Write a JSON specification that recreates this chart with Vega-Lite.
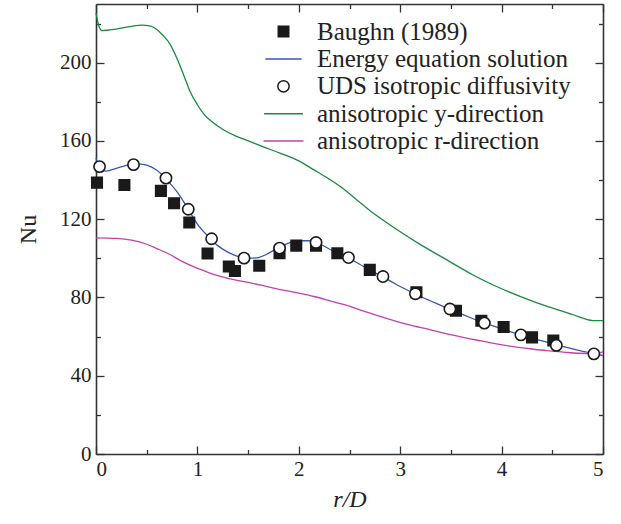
{
  "$schema": "https://vega.github.io/schema/vega-lite/v6.json",
  "width": 507,
  "height": 450,
  "autosize": "none",
  "padding": {"left": 96, "top": 4, "right": 18, "bottom": 70},
  "background": "white",
  "datasets": {
    "curves": [
      {"series": "Energy equation solution", "x": 0, "y": 151.5},
      {"series": "Energy equation solution", "x": 0.03, "y": 145.5},
      {"series": "Energy equation solution", "x": 0.1, "y": 144.6},
      {"series": "Energy equation solution", "x": 0.2, "y": 146},
      {"series": "Energy equation solution", "x": 0.3, "y": 147.5},
      {"series": "Energy equation solution", "x": 0.4, "y": 148.3},
      {"series": "Energy equation solution", "x": 0.5, "y": 147.6},
      {"series": "Energy equation solution", "x": 0.6, "y": 145},
      {"series": "Energy equation solution", "x": 0.7, "y": 140},
      {"series": "Energy equation solution", "x": 0.8, "y": 134},
      {"series": "Energy equation solution", "x": 0.9, "y": 126},
      {"series": "Energy equation solution", "x": 1.0, "y": 117.5},
      {"series": "Energy equation solution", "x": 1.1, "y": 111.5},
      {"series": "Energy equation solution", "x": 1.2, "y": 106.5},
      {"series": "Energy equation solution", "x": 1.3, "y": 103.2},
      {"series": "Energy equation solution", "x": 1.4, "y": 101},
      {"series": "Energy equation solution", "x": 1.5, "y": 100},
      {"series": "Energy equation solution", "x": 1.6, "y": 100.4},
      {"series": "Energy equation solution", "x": 1.7, "y": 102.5},
      {"series": "Energy equation solution", "x": 1.8, "y": 105.5},
      {"series": "Energy equation solution", "x": 1.9, "y": 107.8},
      {"series": "Energy equation solution", "x": 2.0, "y": 109},
      {"series": "Energy equation solution", "x": 2.1, "y": 109},
      {"series": "Energy equation solution", "x": 2.2, "y": 107.5},
      {"series": "Energy equation solution", "x": 2.3, "y": 104.8},
      {"series": "Energy equation solution", "x": 2.4, "y": 102},
      {"series": "Energy equation solution", "x": 2.5, "y": 99.8},
      {"series": "Energy equation solution", "x": 2.6, "y": 97},
      {"series": "Energy equation solution", "x": 2.7, "y": 94},
      {"series": "Energy equation solution", "x": 2.8, "y": 91.3},
      {"series": "Energy equation solution", "x": 2.9, "y": 88.5},
      {"series": "Energy equation solution", "x": 3.0, "y": 85.6},
      {"series": "Energy equation solution", "x": 3.1, "y": 83},
      {"series": "Energy equation solution", "x": 3.2, "y": 80.5},
      {"series": "Energy equation solution", "x": 3.3, "y": 78.2},
      {"series": "Energy equation solution", "x": 3.4, "y": 76},
      {"series": "Energy equation solution", "x": 3.5, "y": 73.8},
      {"series": "Energy equation solution", "x": 3.6, "y": 71.6},
      {"series": "Energy equation solution", "x": 3.7, "y": 69.5},
      {"series": "Energy equation solution", "x": 3.8, "y": 67.5},
      {"series": "Energy equation solution", "x": 3.9, "y": 65.7},
      {"series": "Energy equation solution", "x": 4.0, "y": 64},
      {"series": "Energy equation solution", "x": 4.1, "y": 62.3},
      {"series": "Energy equation solution", "x": 4.2, "y": 60.7},
      {"series": "Energy equation solution", "x": 4.3, "y": 59.2},
      {"series": "Energy equation solution", "x": 4.4, "y": 57.8},
      {"series": "Energy equation solution", "x": 4.5, "y": 56.3},
      {"series": "Energy equation solution", "x": 4.6, "y": 55},
      {"series": "Energy equation solution", "x": 4.7, "y": 53.7},
      {"series": "Energy equation solution", "x": 4.8, "y": 52.5},
      {"series": "Energy equation solution", "x": 4.9, "y": 51.4},
      {"series": "Energy equation solution", "x": 5.0, "y": 50.3},

      {"series": "anisotropic y-direction", "x": 0, "y": 225.4},
      {"series": "anisotropic y-direction", "x": 0.03, "y": 218.5},
      {"series": "anisotropic y-direction", "x": 0.06, "y": 216.4},
      {"series": "anisotropic y-direction", "x": 0.2, "y": 217.2},
      {"series": "anisotropic y-direction", "x": 0.35, "y": 218.6},
      {"series": "anisotropic y-direction", "x": 0.45, "y": 219.2},
      {"series": "anisotropic y-direction", "x": 0.54, "y": 218.7},
      {"series": "anisotropic y-direction", "x": 0.6, "y": 217},
      {"series": "anisotropic y-direction", "x": 0.66, "y": 214},
      {"series": "anisotropic y-direction", "x": 0.73, "y": 209.5},
      {"series": "anisotropic y-direction", "x": 0.8, "y": 202},
      {"series": "anisotropic y-direction", "x": 0.87, "y": 193},
      {"series": "anisotropic y-direction", "x": 0.93, "y": 185},
      {"series": "anisotropic y-direction", "x": 1.0, "y": 178.5},
      {"series": "anisotropic y-direction", "x": 1.06, "y": 174},
      {"series": "anisotropic y-direction", "x": 1.15, "y": 169.5},
      {"series": "anisotropic y-direction", "x": 1.26, "y": 165.6},
      {"series": "anisotropic y-direction", "x": 1.38, "y": 162.5},
      {"series": "anisotropic y-direction", "x": 1.49, "y": 160.3},
      {"series": "anisotropic y-direction", "x": 1.65, "y": 157},
      {"series": "anisotropic y-direction", "x": 1.82, "y": 153.7},
      {"series": "anisotropic y-direction", "x": 2.0, "y": 149.8},
      {"series": "anisotropic y-direction", "x": 2.15, "y": 145.2},
      {"series": "anisotropic y-direction", "x": 2.3, "y": 140.5},
      {"series": "anisotropic y-direction", "x": 2.41, "y": 136.7},
      {"series": "anisotropic y-direction", "x": 2.57, "y": 130},
      {"series": "anisotropic y-direction", "x": 2.75, "y": 122.5},
      {"series": "anisotropic y-direction", "x": 2.97, "y": 114.6},
      {"series": "anisotropic y-direction", "x": 3.2, "y": 107},
      {"series": "anisotropic y-direction", "x": 3.46, "y": 99.2},
      {"series": "anisotropic y-direction", "x": 3.7, "y": 92},
      {"series": "anisotropic y-direction", "x": 3.95, "y": 85.6},
      {"series": "anisotropic y-direction", "x": 4.2, "y": 80.2},
      {"series": "anisotropic y-direction", "x": 4.45, "y": 75.4},
      {"series": "anisotropic y-direction", "x": 4.7, "y": 71.3},
      {"series": "anisotropic y-direction", "x": 4.9, "y": 68.2},
      {"series": "anisotropic y-direction", "x": 5.0, "y": 68.2},

      {"series": "anisotropic r-direction", "x": 0, "y": 110.5},
      {"series": "anisotropic r-direction", "x": 0.2, "y": 110.2},
      {"series": "anisotropic r-direction", "x": 0.35, "y": 109.3},
      {"series": "anisotropic r-direction", "x": 0.5, "y": 107.2},
      {"series": "anisotropic r-direction", "x": 0.6, "y": 105},
      {"series": "anisotropic r-direction", "x": 0.72, "y": 102.2},
      {"series": "anisotropic r-direction", "x": 0.83, "y": 99},
      {"series": "anisotropic r-direction", "x": 0.95, "y": 96},
      {"series": "anisotropic r-direction", "x": 1.05, "y": 94},
      {"series": "anisotropic r-direction", "x": 1.16, "y": 91.8},
      {"series": "anisotropic r-direction", "x": 1.3, "y": 89.8},
      {"series": "anisotropic r-direction", "x": 1.49, "y": 87.8},
      {"series": "anisotropic r-direction", "x": 1.65, "y": 86},
      {"series": "anisotropic r-direction", "x": 1.82, "y": 84},
      {"series": "anisotropic r-direction", "x": 2.0, "y": 82.2},
      {"series": "anisotropic r-direction", "x": 2.15, "y": 80.5},
      {"series": "anisotropic r-direction", "x": 2.31, "y": 78.3},
      {"series": "anisotropic r-direction", "x": 2.45, "y": 76.3},
      {"series": "anisotropic r-direction", "x": 2.64, "y": 73},
      {"series": "anisotropic r-direction", "x": 2.8, "y": 70.3},
      {"series": "anisotropic r-direction", "x": 2.97, "y": 67.7},
      {"series": "anisotropic r-direction", "x": 3.13, "y": 65.5},
      {"series": "anisotropic r-direction", "x": 3.3, "y": 63.5},
      {"series": "anisotropic r-direction", "x": 3.45, "y": 61.5},
      {"series": "anisotropic r-direction", "x": 3.62, "y": 59.6},
      {"series": "anisotropic r-direction", "x": 3.8, "y": 57.8},
      {"series": "anisotropic r-direction", "x": 3.95, "y": 56.3},
      {"series": "anisotropic r-direction", "x": 4.1, "y": 55},
      {"series": "anisotropic r-direction", "x": 4.28, "y": 53.8},
      {"series": "anisotropic r-direction", "x": 4.45, "y": 52.8},
      {"series": "anisotropic r-direction", "x": 4.61, "y": 52.1},
      {"series": "anisotropic r-direction", "x": 4.75, "y": 51.5},
      {"series": "anisotropic r-direction", "x": 4.9, "y": 51.3},
      {"series": "anisotropic r-direction", "x": 5.0, "y": 52.2}
    ],
    "markers": [
      {"series": "Baughn (1989)", "x": 0.01, "y": 138.7},
      {"series": "Baughn (1989)", "x": 0.28, "y": 137.5},
      {"series": "Baughn (1989)", "x": 0.64, "y": 134.5},
      {"series": "Baughn (1989)", "x": 0.77, "y": 128.2},
      {"series": "Baughn (1989)", "x": 0.92, "y": 118.3},
      {"series": "Baughn (1989)", "x": 1.1, "y": 102.5},
      {"series": "Baughn (1989)", "x": 1.31, "y": 95.8},
      {"series": "Baughn (1989)", "x": 1.37, "y": 93.5},
      {"series": "Baughn (1989)", "x": 1.61, "y": 96.2},
      {"series": "Baughn (1989)", "x": 1.81, "y": 102.6},
      {"series": "Baughn (1989)", "x": 1.975, "y": 106.5},
      {"series": "Baughn (1989)", "x": 2.17, "y": 106.5},
      {"series": "Baughn (1989)", "x": 2.38, "y": 102.6},
      {"series": "Baughn (1989)", "x": 2.7, "y": 94.1},
      {"series": "Baughn (1989)", "x": 3.16, "y": 82.7},
      {"series": "Baughn (1989)", "x": 3.55, "y": 73.2},
      {"series": "Baughn (1989)", "x": 3.8, "y": 68.1},
      {"series": "Baughn (1989)", "x": 4.02, "y": 64.9},
      {"series": "Baughn (1989)", "x": 4.3, "y": 59.6},
      {"series": "Baughn (1989)", "x": 4.51, "y": 58},

      {"series": "UDS isotropic diffusivity", "x": 0.035, "y": 146.9},
      {"series": "UDS isotropic diffusivity", "x": 0.37, "y": 147.9},
      {"series": "UDS isotropic diffusivity", "x": 0.69, "y": 141},
      {"series": "UDS isotropic diffusivity", "x": 0.91, "y": 125.1},
      {"series": "UDS isotropic diffusivity", "x": 1.14, "y": 110},
      {"series": "UDS isotropic diffusivity", "x": 1.46, "y": 100.1},
      {"series": "UDS isotropic diffusivity", "x": 1.81, "y": 105.2},
      {"series": "UDS isotropic diffusivity", "x": 2.17, "y": 108.1},
      {"series": "UDS isotropic diffusivity", "x": 2.49, "y": 100.4},
      {"series": "UDS isotropic diffusivity", "x": 2.83, "y": 90.7},
      {"series": "UDS isotropic diffusivity", "x": 3.15, "y": 81.9},
      {"series": "UDS isotropic diffusivity", "x": 3.49, "y": 74.1},
      {"series": "UDS isotropic diffusivity", "x": 3.83, "y": 66.9},
      {"series": "UDS isotropic diffusivity", "x": 4.19, "y": 60.9},
      {"series": "UDS isotropic diffusivity", "x": 4.54, "y": 55.5},
      {"series": "UDS isotropic diffusivity", "x": 4.91, "y": 51.2}
    ]
  },
  "layer": [
    {
      "data": {"name": "curves"},
      "mark": {"type": "line", "strokeWidth": 1.3, "interpolate": "monotone"},
      "encoding": {
        "x": {
          "field": "x", "type": "quantitative",
          "scale": {"domain": [0, 5], "nice": false, "zero": false},
          "axis": {
            "orient": "top", "labels": false, "title": null,
            "values": [0, 0.5, 1, 1.5, 2, 2.5, 3, 3.5, 4, 4.5, 5],
            "tickSize": {"condition": {"test": "datum.value % 1 === 0", "value": -8}, "value": -4.5}
          }
        },
        "y": {
          "field": "y", "type": "quantitative",
          "scale": {"domain": [0, 230], "nice": false, "zero": true},
          "axis": {
            "orient": "right", "labels": false, "title": null,
            "values": [0, 20, 40, 60, 80, 100, 120, 140, 160, 180, 200, 220],
            "tickSize": {"condition": {"test": "datum.value % 40 === 0", "value": -8}, "value": -4.5}
          }
        },
        "stroke": {
          "field": "series", "type": "nominal",
          "scale": {
            "domain": ["Baughn (1989)", "Energy equation solution", "UDS isotropic diffusivity", "anisotropic y-direction", "anisotropic r-direction"],
            "range": ["#1a1a1a", "#3556b8", "#1a1a1a", "#1a8a3e", "#c640aa"]
          }
        }
      }
    },
    {
      "data": {"name": "markers"},
      "mark": {"type": "point", "strokeWidth": 1.6, "opacity": 1},
      "encoding": {
        "x": {
          "field": "x", "type": "quantitative",
          "scale": {"domain": [0, 5], "nice": false, "zero": false},
          "axis": {
            "orient": "bottom", "title": "r/D", "format": "~g",
            "values": [0, 0.5, 1, 1.5, 2, 2.5, 3, 3.5, 4, 4.5, 5],
            "labelExpr": "datum.value % 1 === 0 ? datum.label : ''",
            "tickSize": {"condition": {"test": "datum.value % 1 === 0", "value": -8}, "value": -4.5},
            "titleFontStyle": "italic"
          }
        },
        "y": {
          "field": "y", "type": "quantitative",
          "scale": {"domain": [0, 230], "nice": false, "zero": true},
          "axis": {
            "orient": "left", "title": "Nu",
            "values": [0, 20, 40, 60, 80, 100, 120, 140, 160, 180, 200, 220],
            "labelExpr": "datum.value % 40 === 0 ? datum.label : ''",
            "tickSize": {"condition": {"test": "datum.value % 40 === 0", "value": -8}, "value": -4.5}
          }
        },
        "stroke": {
          "field": "series", "type": "nominal",
          "scale": {
            "domain": ["Baughn (1989)", "Energy equation solution", "UDS isotropic diffusivity", "anisotropic y-direction", "anisotropic r-direction"],
            "range": ["#1a1a1a", "#3556b8", "#1a1a1a", "#1a8a3e", "#c640aa"]
          },
          "legend": {
            "orient": "none", "legendX": 175, "legendY": 15, "title": null
          }
        },
        "fill": {
          "field": "series", "type": "nominal",
          "scale": {
            "domain": ["Baughn (1989)", "Energy equation solution", "UDS isotropic diffusivity", "anisotropic y-direction", "anisotropic r-direction"],
            "range": ["#1a1a1a", "transparent", "white", "transparent", "transparent"]
          },
          "legend": {
            "orient": "none", "legendX": 175, "legendY": 15, "title": null
          }
        },
        "shape": {
          "field": "series", "type": "nominal",
          "scale": {
            "domain": ["Baughn (1989)", "Energy equation solution", "UDS isotropic diffusivity", "anisotropic y-direction", "anisotropic r-direction"],
            "range": ["square", "M-3.33,0L3.33,0", "circle", "M-3.33,0L3.33,0", "M-3.33,0L3.33,0"]
          },
          "legend": {
            "orient": "none", "legendX": 175, "legendY": 15, "title": null
          }
        },
        "size": {
          "field": "series", "type": "nominal",
          "scale": {
            "domain": ["Baughn (1989)", "Energy equation solution", "UDS isotropic diffusivity", "anisotropic y-direction", "anisotropic r-direction"],
            "range": [110, 144, 80, 144, 144]
          },
          "legend": {
            "orient": "none", "legendX": 175, "legendY": 15, "title": null
          }
        }
      }
    }
  ],
  "resolve": {"axis": {"x": "independent", "y": "independent"}},
  "config": {
    "view": {"stroke": null},
    "font": "Liberation Serif",
    "axis": {
      "grid": false,
      "domainColor": "#333333",
      "domainWidth": 1.6,
      "tickColor": "#333333",
      "tickWidth": 1.3,
      "labelFont": "Liberation Serif",
      "labelFontSize": 21,
      "labelColor": "#222222",
      "titleFont": "Liberation Serif",
      "titleFontSize": 24,
      "titleFontWeight": "normal",
      "titleColor": "#222222"
    },
    "axisX": {"labelPadding": 12, "titlePadding": 8},
    "axisY": {"labelPadding": 13, "titlePadding": 19},
    "legend": {
      "padding": 0,
      "labelFont": "Liberation Serif",
      "labelFontSize": 25,
      "labelColor": "#222222",
      "labelOffset": 21,
      "rowPadding": 1.4,
      "symbolStrokeWidth": 1.5,
      "labelLimit": 400
    }
  }
}
